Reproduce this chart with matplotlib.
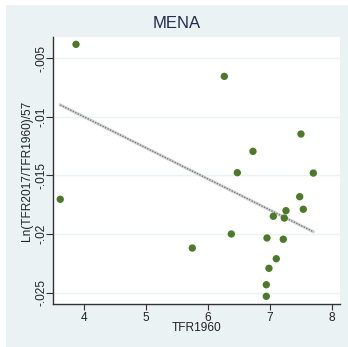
import numpy as np
import matplotlib.pyplot as plt
from matplotlib.patches import Rectangle

plt.rcParams['font.family'] = ['Liberation Sans', 'DejaVu Sans']

# TFR1960 vs annualised log change in TFR, MENA countries
tfr1960 = [3.866, 6.261, 3.612, 6.471, 6.724, 7.499, 7.698, 7.478, 7.536, 7.257,
           7.052, 7.229, 6.374, 6.950, 7.213, 5.744, 7.100, 6.982, 6.939, 6.939]
growth = [-0.00381, -0.00654, -0.01703, -0.01476, -0.01294, -0.01146, -0.01479,
          -0.01681, -0.01788, -0.01800, -0.01848, -0.01863, -0.01999, -0.02033,
          -0.02044, -0.02119, -0.02210, -0.02292, -0.02432, -0.02531]
# fitted line as shown in the chart
fit_intercept = 0.000585
fit_slope = -0.002648
xticks = [4, 5, 6, 7, 8]
yticks = [-0.005, -0.01, -0.015, -0.02, -0.025]
ytick_labels = ['-.005', '-.01', '-.015', '-.02', '-.025']

bg = '#eaf2f3'
W, H = 348, 347
fig = plt.figure(figsize=(W / 100, H / 100), dpi=100, facecolor='white')
fig.patches.append(Rectangle((6 / W, 0), 1, 1 - 5 / H, transform=fig.transFigure,
                             facecolor=bg, edgecolor='none', zorder=-10))

ax = fig.add_axes([53 / W, 1 - 304 / H, (340 - 53) / W, (304 - 37) / H])
ax.set_facecolor('white')

x = np.array(tfr1960)
y = np.array(growth)
xs = np.array([x.min(), x.max()])
ax.plot(xs, fit_intercept + fit_slope * xs, color='#d4d4d4', lw=2.2, zorder=2)
ax.plot(xs, fit_intercept + fit_slope * xs, color='#7a7a7a', lw=1.0, ls=(0, (1, 1)), zorder=3)

ax.scatter(x, y, s=28, color='#4c7a2a', edgecolor='none', zorder=4)

ax.set_xlim(3.4946, 8.129)
ax.set_ylim(-0.025964, -0.003183)
ax.set_xticks(xticks)
ax.set_yticks(yticks)
ax.set_yticklabels(ytick_labels, rotation=90, va='center')
ax.grid(axis='y', color=bg, lw=1.0, zorder=1)
ax.set_axisbelow(True)

for s in ['top', 'right']:
    ax.spines[s].set_visible(False)
for s in ['left', 'bottom']:
    ax.spines[s].set_color('#333333')
    ax.spines[s].set_linewidth(1.0)
ax.tick_params(length=4, width=0.8, color='#333333', labelsize=8.6, labelcolor='#222222', pad=1.5)
ax.tick_params(axis='y', length=5, pad=-1)

ax.set_xlabel('TFR1960', fontsize=8.6, color='#222222', labelpad=-1)
ax.set_ylabel('Ln(TFR2017/TFR1960)/57', fontsize=8.6, color='#222222', labelpad=1.5)
fig.text(0.5 + 3 / W, 1 - 23 / H, 'MENA', ha='center', va='center', fontsize=12, color='#1e2b4f')

fig.savefig('out.png', dpi=100, facecolor='white')
